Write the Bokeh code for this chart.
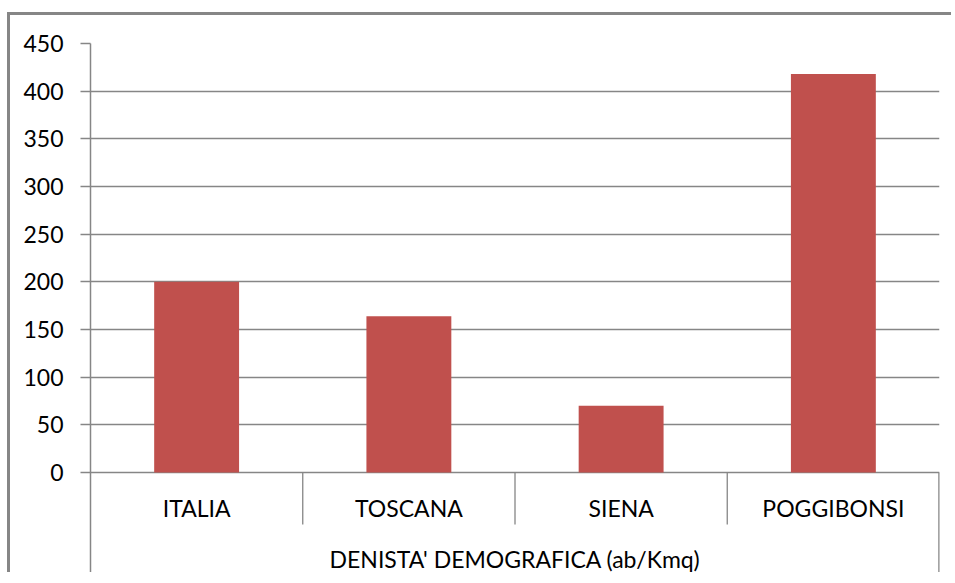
from bokeh.plotting import figure
from bokeh.models import FactorRange, Range1d, FixedTicker, ColumnDataSource
from bokeh.core.properties import value
from bokeh.embed import file_html
from bokeh.resources import INLINE

# ---- data ----
categories = ["ITALIA", "TOSCANA", "SIENA", "POGGIBONSI"]
densities = [200, 164, 70, 418]
y_ticks = [0, 50, 100, 150, 200, 250, 300, 350, 400, 450]
group_label = "DENISTA' DEMOGRAFICA (ab/Kmq)"

FONT = "Lato"
GRID = "#868686"
BAR = "#C0504D"

p = figure(
    x_range=FactorRange(factors=categories, range_padding=0),
    y_range=Range1d(-108, 450),
    width=944, height=560,
    output_backend="svg", toolbar_location=None,
    min_border_left=80, min_border_right=15, min_border_top=28, min_border_bottom=0,
)
p.styles = {"border-top": "3px solid #868686", "border-left": "3px solid #868686",
            "margin-top": "12px", "margin-left": "7px"}
p.outline_line_color = None
p.background_fill_color = "white"
p.border_fill_color = "white"

# bars
src = ColumnDataSource(dict(cat=categories, val=densities))
p.vbar(x="cat", top="val", bottom=0, width=0.4, source=src,
       fill_color=BAR, line_color=None)

# y axis
p.xaxis.visible = False
p.xgrid.visible = False
p.yaxis.ticker = FixedTicker(ticks=y_ticks)
p.ygrid.ticker = FixedTicker(ticks=y_ticks)
p.ygrid.grid_line_color = GRID
p.ygrid.grid_line_width = 1.3
p.yaxis.axis_line_color = GRID
p.yaxis.axis_line_width = 1.5
p.yaxis.major_tick_line_color = GRID
p.yaxis.major_tick_line_width = 1.3
p.yaxis.major_tick_out = 10
p.yaxis.major_tick_in = 0
p.yaxis.minor_tick_line_color = None
p.yaxis.major_label_text_font = FONT
p.yaxis.major_label_text_font_size = "23px"
p.yaxis.major_label_text_color = "#000000"
p.yaxis.major_label_standoff = 17

# category separators below the axis
inner = categories[:-1]
p.segment(x0=[(c, 0.5) for c in inner], y0=[0] * len(inner),
          x1=[(c, 0.5) for c in inner], y1=[-54.5] * len(inner),
          line_color=GRID, line_width=1.3)
p.segment(x0=[(categories[-1], 0.5)], y0=[0], x1=[(categories[-1], 0.5)], y1=[-108],
          line_color=GRID, line_width=2.5)

# category labels
p.text(x=categories, y=[-37] * len(categories), text=categories,
       text_align="center", text_baseline="middle",
       text_font=value(FONT), text_font_size="23px", text_color="#000000")

# group label
p.text(x=[(categories[1], 0.5)], y=[-90.5], text=[group_label],
       text_align="center", text_baseline="middle",
       text_font=value(FONT), text_font_size="23px", text_color="#000000")

open("out.html", "w").write(file_html(p, INLINE))
